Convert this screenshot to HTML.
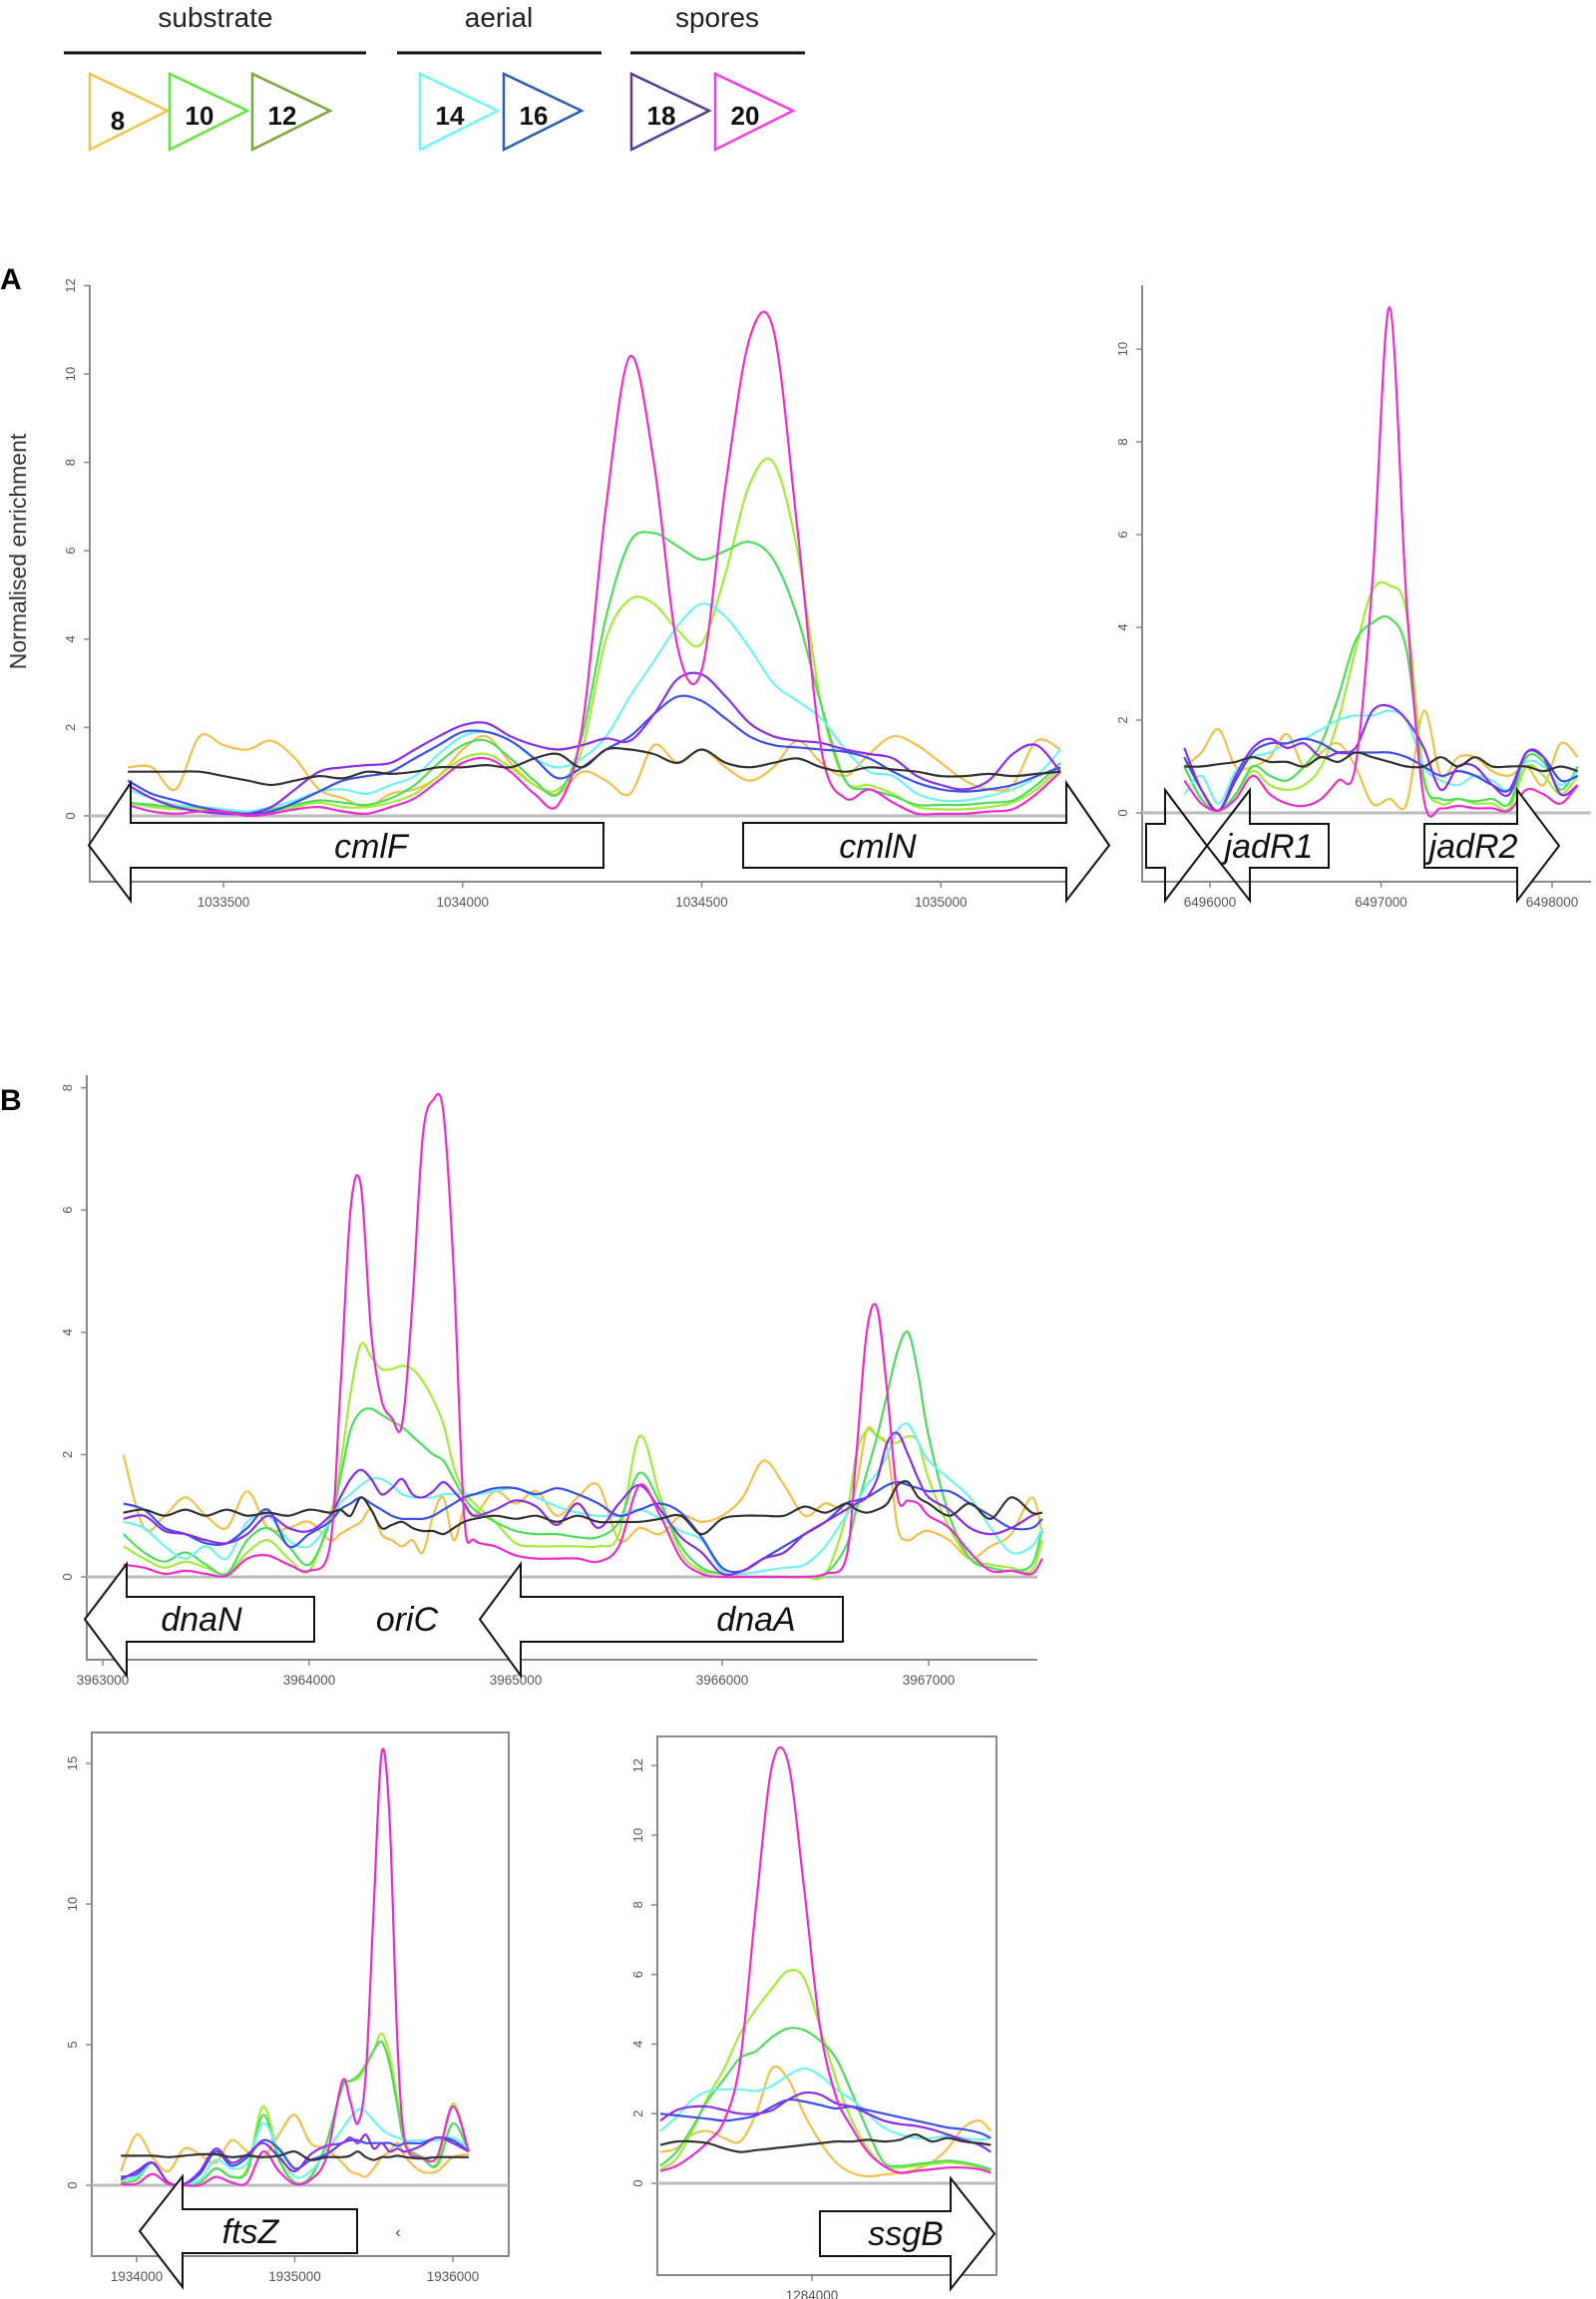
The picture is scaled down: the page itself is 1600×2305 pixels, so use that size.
<!DOCTYPE html>
<html><head><meta charset="utf-8"><title>ChIP enrichment profiles</title>
<style>
html,body{margin:0;padding:0;background:#fff;}
svg{display:block;font-family:"Liberation Sans",sans-serif;}
.tick{font-size:13.5px;fill:#555;}
.ytick{font-size:13px;fill:#555;}
.gene{font-size:34px;font-style:italic;fill:#111;}
</style></head>
<body>
<svg id="fig" width="1600" height="2305" viewBox="0 0 1600 2305" xmlns="http://www.w3.org/2000/svg">
<g id="legend"></g>
<text x="0" y="290" font-size="30" font-weight="bold">A</text>
<text x="0" y="1113" font-size="30" font-weight="bold">B</text>
<text transform="translate(26,553) rotate(-90)" text-anchor="middle" font-size="23" fill="#333">Normalised enrichment</text>
<g id="plots"></g>
</svg>
<script>
// ---------- data ----------
const seriesNames = ["8","10","12","14","16","18","20","control"];
const seriesColors = ["#f0c04a","#a2ec3a","#4fdc5c","#6ff2f2","#3a50e8","#8a2ee8","#ec2ccc","#333333"];

// Panel A (cmlF / cmlN)
const xA = [1033300,1033350,1033400,1033450,1033500,1033550,1033600,1033650,1033700,1033750,
1033800,1033850,1033900,1033950,1034000,1034050,1034100,1034150,1034200,1034250,
1034300,1034350,1034400,1034450,1034500,1034550,1034600,1034650,1034700,1034750,
1034800,1034850,1034900,1034950,1035000,1035050,1035100,1035150,1035200,1035250];
const a8  = [1.1,1.1,0.6,1.8,1.6,1.5,1.7,1.3,0.6,0.4,0.2,0.5,0.6,0.9,1.5,1.8,1.2,0.7,0.5,1.0,0.8,0.5,1.6,1.2,1.5,1.1,0.8,1.1,1.7,1.2,0.9,1.4,1.8,1.6,1.2,0.8,0.6,0.7,1.7,1.5];
const a10 = [0.3,0.2,0.15,0.15,0.1,0.05,0.1,0.2,0.3,0.2,0.2,0.3,0.5,0.9,1.3,1.4,1.1,0.7,0.6,1.5,4.0,4.9,4.8,4.2,3.9,5.5,7.5,8.0,6.0,2.5,0.8,0.7,0.5,0.2,0.15,0.15,0.2,0.3,0.6,1.1];
const a12 = [0.3,0.25,0.2,0.2,0.15,0.1,0.15,0.25,0.35,0.3,0.25,0.4,0.7,1.2,1.6,1.7,1.3,0.8,0.5,1.8,4.5,6.2,6.4,6.1,5.8,6.0,6.2,5.8,4.5,2.5,0.8,0.6,0.45,0.25,0.25,0.25,0.3,0.35,0.7,1.2];
const a14 = [0.6,0.4,0.25,0.2,0.15,0.1,0.2,0.35,0.55,0.6,0.5,0.7,0.9,1.4,1.8,1.9,1.7,1.3,1.1,1.3,1.8,2.7,3.5,4.3,4.8,4.5,3.8,3.0,2.6,2.2,1.5,1.0,0.9,0.5,0.35,0.35,0.45,0.6,0.9,1.5];
const a16 = [0.8,0.5,0.35,0.2,0.1,0.05,0.1,0.3,0.55,0.8,0.9,1.0,1.3,1.6,1.9,1.9,1.7,1.3,0.85,1.1,1.5,1.8,2.3,2.7,2.6,2.2,1.8,1.6,1.55,1.5,1.45,1.3,1.0,0.75,0.6,0.55,0.6,0.7,0.9,1.1];
const a18 = [0.7,0.4,0.2,0.1,0.05,0.05,0.2,0.6,1.0,1.1,1.15,1.2,1.5,1.8,2.05,2.1,1.8,1.6,1.5,1.6,1.75,1.7,2.3,3.1,3.2,2.7,2.1,1.8,1.7,1.65,1.5,1.4,1.3,0.9,0.7,0.6,0.8,1.4,1.6,1.0];
const a20 = [0.25,0.1,0.05,0.1,0.1,0.0,0.05,0.15,0.2,0.1,0.05,0.2,0.4,0.8,1.2,1.3,1.0,0.5,0.25,2.0,7.0,10.4,8.0,3.8,3.3,7.5,10.8,11.0,6.5,1.5,0.4,0.6,0.3,0.05,0.05,0.05,0.1,0.15,0.5,1.0];
const aC  = [1.0,1.0,1.0,1.0,0.9,0.8,0.7,0.8,0.9,0.85,1.0,0.95,1.0,1.1,1.1,1.15,1.1,1.3,1.4,1.1,1.5,1.5,1.4,1.2,1.5,1.2,1.1,1.2,1.3,1.1,1.0,1.1,1.05,1.0,0.9,0.9,0.95,0.9,0.95,1.0];
const yTicksA = [0,2,4,6,8,10,12];
const xTicksA = [1033500,1034000,1034500,1035000];

// Panel A right (jadR1 / jadR2)
const xAR = [6495850,6495950,6496050,6496150,6496250,6496350,6496450,6496550,6496650,6496750,6496850,6496950,
6497050,6497150,6497250,6497350,6497450,6497550,6497650,6497750,6497850,6497950,6498050,6498150];
const r8  = [1.0,1.3,1.8,1.0,1.0,1.2,1.7,1.0,1.3,1.5,1.0,0.2,0.3,0.2,2.2,0.8,1.2,1.2,0.9,0.8,1.0,0.6,1.5,1.2];
const r10 = [1.0,0.3,0.05,0.4,0.9,0.6,0.5,0.6,1.0,2.0,3.5,4.8,4.9,4.3,0.8,0.2,0.3,0.2,0.2,0.1,1.0,0.8,0.4,0.8];
const r12 = [1.0,0.3,0.05,0.4,1.0,0.8,0.7,1.0,1.5,2.5,3.7,4.1,4.2,3.5,0.7,0.3,0.3,0.25,0.3,0.2,1.2,1.1,0.5,1.0];
const r14 = [0.4,0.8,0.2,0.9,1.2,1.3,1.5,1.6,1.8,2.0,2.1,2.1,2.2,2.0,1.0,0.7,0.6,0.8,0.7,0.5,1.1,1.0,0.6,0.9];
const r16 = [1.2,0.5,0.05,0.7,1.3,1.5,1.5,1.6,1.5,1.3,1.3,1.3,1.3,1.2,1.0,0.8,0.9,0.8,0.6,0.5,1.3,1.2,0.7,0.8];
const r18 = [1.4,0.5,0.05,0.8,1.4,1.6,1.4,1.5,1.2,1.3,1.4,2.2,2.3,2.0,1.4,0.5,1.0,1.0,0.6,0.4,1.3,1.2,0.4,0.6];
const r20 = [0.7,0.2,0.05,0.3,0.8,0.4,0.2,0.15,0.3,0.7,1.0,5.0,10.9,4.5,0.3,0.1,0.15,0.1,0.1,0.05,0.5,0.4,0.2,0.6];
const rC  = [1.0,1.0,1.05,1.1,1.2,1.1,1.1,1.0,1.2,1.1,1.3,1.2,1.1,1.0,1.0,1.2,1.0,1.2,1.0,1.0,1.0,0.9,1.0,0.9];
const yTicksAR = [0,2,4,6,8,10];
const xTicksAR = [6496000,6497000,6498000];

// Panel B (dnaN / oriC / dnaA)
const xB = [3963100,3963200,3963300,3963400,3963500,3963600,3963700,3963800,3963900,3964000,
3964100,3964150,3964200,3964250,3964300,3964350,3964400,3964450,3964500,3964550,
3964600,3964650,3964700,3964750,3964800,3964900,3965000,3965100,3965200,3965300,
3965400,3965500,3965600,3965700,3965800,3965900,3966000,3966100,3966200,3966300,
3966400,3966500,3966600,3966650,3966700,3966750,3966800,3966850,3966900,3966950,
3967000,3967100,3967200,3967300,3967400,3967500,3967550];
const b8  = [2.0,0.8,1.0,1.3,1.0,0.8,1.4,0.8,0.8,0.9, 0.6,0.7,0.8,0.9,1.1,0.7,0.6,0.5,0.6,0.4, 1.0,1.3,0.6,1.1,1.0,1.4,1.2,1.4,1.0,1.3, 1.5,0.6,0.8,0.7,1.0,0.9,1.0,1.3,1.9,1.5, 1.0,1.2,1.1,1.5,2.4,2.3,2.1,0.8,0.6,0.7, 0.75,0.6,0.3,0.5,0.7,1.3,0.7];
const b10 = [0.5,0.3,0.15,0.25,0.15,0.05,0.4,0.6,0.3,0.1, 1.0,1.8,3.0,3.8,3.6,3.4,3.4,3.45,3.4,3.2, 2.9,2.5,1.8,1.4,1.2,0.9,0.55,0.5,0.5,0.5, 0.5,0.7,2.3,1.3,0.4,0.1,0.05,0.0,0.0,0.0, 0.0,0.05,1.0,2.0,2.4,2.3,2.2,2.2,2.3,2.2, 1.6,0.8,0.3,0.2,0.15,0.1,0.6];
const b12 = [0.7,0.4,0.25,0.4,0.2,0.05,0.6,0.8,0.5,0.2, 0.9,1.6,2.4,2.7,2.75,2.65,2.55,2.45,2.3,2.15, 2.0,1.9,1.6,1.3,1.1,0.9,0.75,0.7,0.7,0.65, 0.65,0.9,1.7,1.2,0.5,0.15,0.05,0.0,0.0,0.0, 0.0,0.05,0.5,1.1,1.7,2.3,3.0,3.7,4.0,3.3, 2.3,1.0,0.3,0.15,0.1,0.2,0.8];
const b14 = [0.9,0.8,0.5,0.3,0.5,0.3,0.9,1.0,0.6,0.5, 0.9,1.2,1.35,1.5,1.6,1.6,1.5,1.35,1.3,1.3, 1.3,1.35,1.35,1.35,1.35,1.4,1.45,1.3,1.15,1.05, 1.0,1.0,1.1,0.95,0.75,0.6,0.1,0.05,0.1,0.15, 0.2,0.5,1.0,1.2,1.5,1.7,2.0,2.4,2.5,2.2, 1.9,1.6,1.3,0.8,0.4,0.5,0.8];
const b16 = [1.2,1.1,0.8,0.7,0.55,0.55,0.8,1.1,0.5,0.7, 0.9,1.1,1.2,1.3,1.2,1.1,1.0,0.95,0.95,0.95, 1.0,1.1,1.2,1.3,1.35,1.45,1.45,1.35,1.45,1.35, 1.2,1.0,1.1,1.2,1.05,0.65,0.15,0.1,0.3,0.5, 0.7,0.9,1.2,1.25,1.3,1.4,1.5,1.55,1.5,1.45, 1.4,1.4,1.2,1.0,0.8,0.8,0.95];
const b18 = [0.95,1.0,0.75,0.7,0.6,0.55,0.7,1.0,0.8,0.75, 1.0,1.3,1.6,1.75,1.6,1.35,1.45,1.6,1.35,1.3, 1.4,1.55,1.4,1.2,1.0,1.1,1.25,1.15,0.85,1.2, 0.8,1.2,1.5,1.1,0.65,0.4,0.05,0.1,0.3,0.4, 0.7,0.9,1.1,1.2,1.3,1.6,2.2,2.35,2.0,1.6, 1.3,1.1,0.8,0.7,0.8,1.0,1.05];
const b20 = [0.2,0.15,0.05,0.1,0.05,0.02,0.3,0.35,0.2,0.1, 0.5,3.0,6.0,6.4,4.0,2.9,2.6,2.5,4.5,7.2, 7.8,7.6,5.0,1.0,0.6,0.5,0.35,0.3,0.3,0.3, 0.25,0.5,1.5,1.0,0.3,0.05,0.0,0.0,0.0,0.0, 0.0,0.05,0.3,2.0,4.0,4.4,3.0,1.3,1.25,1.2, 1.0,0.8,0.4,0.1,0.1,0.05,0.3];
const bC  = [1.05,1.1,1.0,1.1,1.0,1.1,1.0,1.05,1.0,1.1, 1.05,1.1,1.0,1.3,1.1,0.8,0.85,0.9,0.8,0.75, 0.75,0.7,0.8,0.9,0.95,1.0,0.95,1.0,0.9,1.0, 0.9,0.9,0.9,0.95,1.0,0.7,0.95,1.0,1.0,1.0, 1.15,1.05,1.2,1.1,1.05,1.1,1.2,1.5,1.55,1.3, 1.2,1.0,1.2,0.95,1.3,1.05,1.05];
const yTicksB = [0,2,4,6,8];
const xTicksB = [3963000,3964000,3965000,3966000,3967000];

// Panel ftsZ
const xF = [1933900,1934000,1934100,1934200,1934300,1934400,1934500,1934600,1934700,1934800,1934900,1935000,1935100,1935200,1935300,
1935350,1935400,1935450,1935500,1935550,1935600,1935650,1935700,1935800,1935900,1936000,1936100];
const f8  = [0.5,1.8,1.0,0.5,1.3,1.1,0.8,1.6,1.2,1.0,1.8,2.5,1.5,1.3,0.8,0.5,0.4,0.3,0.6,1.0,1.2,1.5,1.0,0.5,0.5,1.0,1.1];
const f10 = [0.1,0.2,0.8,0.1,0.05,0.1,0.6,0.3,0.6,2.8,1.0,0.1,0.3,1.5,3.5,3.7,3.8,4.2,4.8,5.4,4.6,3.0,1.5,1.0,0.8,2.9,1.2];
const f12 = [0.1,0.2,0.8,0.1,0.05,0.1,0.6,0.3,0.5,2.5,0.9,0.1,0.3,1.5,3.5,3.7,3.9,4.3,4.8,5.1,4.3,2.8,1.4,1.0,0.7,2.2,1.2];
const f14 = [0.2,0.3,0.8,0.1,0.05,0.2,0.9,0.6,0.8,2.2,1.2,0.3,0.5,1.2,2.0,2.4,2.7,2.6,2.3,2.0,1.8,1.7,1.6,1.6,1.6,1.7,1.3];
const f16 = [0.3,0.4,0.8,0.1,0.05,0.4,1.2,0.7,1.0,1.6,1.3,0.6,0.9,1.1,1.5,1.6,1.6,1.5,1.5,1.5,1.5,1.4,1.5,1.5,1.7,1.6,1.2];
const f18 = [0.2,0.5,0.8,0.1,0.05,0.5,1.3,0.8,1.1,1.5,1.0,0.5,1.1,1.4,1.5,1.7,1.5,1.8,1.3,1.5,1.2,1.3,1.2,1.4,1.7,1.5,1.2];
const f20 = [0.05,0.05,0.4,0.05,0.0,0.0,0.3,0.1,0.1,1.2,0.5,0.05,0.2,1.0,3.7,3.0,2.2,4.0,10.0,15.4,13.0,5.0,1.5,1.0,1.0,2.8,1.2];
const fC  = [1.05,1.05,1.05,1.0,1.05,1.1,1.1,1.0,1.05,1.0,1.05,1.2,0.9,1.0,1.0,1.05,1.2,1.0,0.9,1.0,1.0,1.05,1.0,0.95,1.0,1.0,1.0];
const yTicksF = [0,5,10,15];
const xTicksF = [1934000,1935000,1936000];

// Panel ssgB
const xS = [1283050,1283150,1283250,1283350,1283450,1283550,1283650,1283750,1283850,1283950,1284050,
1284150,1284250,1284350,1284450,1284550,1284650,1284750,1284850,1284950,1285050,1285120];
const s8  = [0.9,1.0,1.4,1.5,1.3,1.2,2.0,3.3,3.0,2.0,1.2,0.6,0.3,0.2,0.25,0.3,0.4,0.6,1.0,1.6,1.8,1.5];
const s10 = [0.4,0.7,1.5,2.5,3.3,4.3,5.0,5.6,6.1,5.9,4.5,3.0,1.8,1.0,0.5,0.45,0.5,0.55,0.6,0.55,0.45,0.35];
const s12 = [0.5,0.9,1.6,2.4,3.0,3.6,3.8,4.2,4.45,4.4,4.1,3.6,2.6,1.5,0.6,0.5,0.55,0.6,0.65,0.6,0.5,0.4];
const s14 = [1.5,1.9,2.4,2.65,2.7,2.7,2.65,2.8,3.1,3.3,3.1,2.7,2.4,2.0,1.6,1.4,1.3,1.3,1.35,1.3,1.25,1.3];
const s16 = [2.0,1.95,1.9,1.85,1.8,1.85,1.95,2.2,2.4,2.35,2.25,2.15,2.2,2.1,2.0,1.9,1.8,1.7,1.6,1.55,1.45,1.3];
const s18 = [1.8,2.1,2.2,2.2,2.1,2.0,2.0,2.1,2.4,2.6,2.55,2.3,2.2,2.0,1.8,1.7,1.65,1.55,1.4,1.25,1.1,0.9];
const s20 = [0.35,0.5,0.8,1.2,1.8,3.5,8.0,12.0,12.1,8.5,4.5,2.5,1.6,0.9,0.5,0.3,0.35,0.4,0.45,0.45,0.4,0.3];
const sC  = [1.1,1.2,1.2,1.15,1.0,0.9,0.95,1.0,1.05,1.1,1.15,1.2,1.2,1.25,1.2,1.25,1.4,1.2,1.3,1.2,1.15,1.1];
const yTicksS = [0,2,4,6,8,10,12];
const xTicksS = [1284000];

// ---------- rendering ----------
const NS = "http://www.w3.org/2000/svg";
const plots = document.getElementById('plots');
function mk(tag, attrs, parent){
  const e = document.createElementNS(NS, tag);
  for (const k in attrs) e.setAttribute(k, attrs[k]);
  (parent||plots).appendChild(e);
  return e;
}
function smoothPath(pts){
  let d = "M" + pts[0][0].toFixed(1) + "," + pts[0][1].toFixed(1);
  for (let i=0;i<pts.length-1;i++){
    const p0 = pts[Math.max(0,i-1)], p1 = pts[i], p2 = pts[i+1], p3 = pts[Math.min(pts.length-1,i+2)];
    const c1x = p1[0]+(p2[0]-p0[0])/6, c1y = p1[1]+(p2[1]-p0[1])/6;
    const c2x = p2[0]-(p3[0]-p1[0])/6, c2y = p2[1]-(p3[1]-p1[1])/6;
    d += " C"+c1x.toFixed(1)+","+c1y.toFixed(1)+" "+c2x.toFixed(1)+","+c2y.toFixed(1)+" "+p2[0].toFixed(1)+","+p2[1].toFixed(1);
  }
  return d;
}
function drawPanel(cfg){
  const g = mk('g', {});
  
  
  const xs = v => cfg.px0 + (v - cfg.g0) * cfg.pxPerBp;
  const ys = v => cfg.y0 - v * cfg.pxPerUnit;
  if (cfg.box){
    const r = mk('rect', {x:cfg.left, y:cfg.top, width:cfg.right-cfg.left, height:cfg.bottom-cfg.top, fill:'none', stroke:'#888', 'stroke-width':2}, g);
    
    
  } else {
    const ax = mk('path', {d:`M${cfg.left},${cfg.top} V${cfg.bottom} H${cfg.right}`, fill:'none', stroke:'#888', 'stroke-width':2}, g);
    
    
  }
  const zl = mk('line', {x1:cfg.left, x2:cfg.right, y1:ys(0), y2:ys(0), stroke:'#bbb', 'stroke-width':3}, g);
  
  
  cfg.yTicks.forEach(t => {
    const y = ys(t);
    const tl = mk('line', {x1:cfg.left-6, x2:cfg.left, y1:y, y2:y, stroke:'#888', 'stroke-width':1.5}, g);
    
    
    const tx = mk('text', {class:'ytick', transform:`translate(${cfg.left-15},${y}) rotate(-90)`, 'text-anchor':'middle'}, g);
    tx.textContent = String(t);
    
    
  });
  cfg.xTicks.forEach(t => {
    const x = xs(t);
    const tl = mk('line', {x1:x, x2:x, y1:cfg.bottom, y2:cfg.bottom+6, stroke:'#888', 'stroke-width':1.5}, g);
    
    
    const tx = mk('text', {class:'tick', x:x, y:cfg.bottom+25, 'text-anchor':'middle'}, g);
    tx.textContent = String(t);
    
    
  });
  cfg.series.forEach((vals, si) => {
    const n = Math.min(vals.length, cfg.x.length);
    const pts = [];
    for (let i=0;i<n;i++) pts.push([xs(cfg.x[i]), ys(Math.max(0, vals[i]))]);
    const p = mk('path', {d:smoothPath(pts), fill:'none', stroke:seriesColors[si], 'stroke-width':2.2, 'stroke-linejoin':'round'}, g);
    
    
  });
  cfg.genes.forEach(ge => {
    const mid = (ge.bt + ge.bb)/2;
    let pts;
    if (ge.dir < 0){
      pts = [[ge.tip,mid],[ge.base,ge.ht],[ge.base,ge.bt],[ge.end,ge.bt],[ge.end,ge.bb],[ge.base,ge.bb],[ge.base,ge.hb]];
    } else {
      pts = [[ge.tip,mid],[ge.base,ge.hb],[ge.base,ge.bb],[ge.end,ge.bb],[ge.end,ge.bt],[ge.base,ge.bt],[ge.base,ge.ht]];
    }
    const pg = mk('polygon', {points:pts.map(p=>p.join(',')).join(' '), fill:ge.fill||'#fff', 'fill-opacity':ge.op==null?1:ge.op, stroke:'#111', 'stroke-width':2}, g);
    
    
  });
  cfg.labels.forEach(l => {
    const t = mk('text', {class:'gene', x:l.x, y:l.y+12, 'text-anchor':'middle'}, g);
    t.textContent = l.t;
    
    
  });
}

drawPanel({name:'panel-a-cml', x:xA, series:[a8,a10,a12,a14,a16,a18,a20,aC],
  g0:1033500, px0:224, pxPerBp:0.4795, y0:818, pxPerUnit:44.3,
  left:90, right:1082, top:286, bottom:884, box:false, yTicks:yTicksA, xTicks:xTicksA,
  genes:[{dir:-1,tip:89,base:131,end:605,bt:825,bb:870,ht:785,hb:903,label:'cmlF'},
         {dir:1,tip:1112,base:1069,end:745,bt:825,bb:870,ht:785,hb:903,label:'cmlN'}],
  labels:[{t:'cmlF',x:372,y:848},{t:'cmlN',x:880,y:848}]});

drawPanel({name:'panel-a-jad', x:xAR, series:[r8,r10,r12,r14,r16,r18,r20,rC],
  g0:6496000, px0:1213, pxPerBp:0.1715, y0:815, pxPerUnit:46.5,
  left:1145, right:1595, top:286, bottom:884, box:false, yTicks:yTicksAR, xTicks:xTicksAR,
  genes:[{dir:1,tip:1210,base:1168,end:1149,bt:826,bb:870,ht:792,hb:903,label:'jad-upstream',op:0},
         {dir:-1,tip:1210,base:1253,end:1332,bt:826,bb:870,ht:792,hb:903,label:'jadR1',op:0},
         {dir:1,tip:1563,base:1521,end:1428,bt:826,bb:870,ht:792,hb:903,label:'jadR2'}],
  labels:[{t:'jadR1',x:1272,y:848},{t:'jadR2',x:1477,y:848}]});

drawPanel({name:'panel-b-oric', x:xB, series:[b8,b10,b12,b14,b16,b18,b20,bC],
  g0:3963000, px0:103, pxPerBp:0.207, y0:1581, pxPerUnit:61.3,
  left:87, right:1040, top:1078, bottom:1664, box:false, yTicks:yTicksB, xTicks:xTicksB,
  genes:[{dir:-1,tip:85,base:127,end:315,bt:1601,bb:1646,ht:1568,hb:1680,label:'dnaN'},
         {dir:-1,tip:481,base:522,end:845,bt:1601,bb:1646,ht:1568,hb:1680,label:'dnaA'}],
  labels:[{t:'dnaN',x:202,y:1623},{t:'oriC',x:408,y:1623},{t:'dnaA',x:758,y:1623}]});

drawPanel({name:'panel-b-ftsz', x:xF, series:[f8,f10,f12,f14,f16,f18,f20,fC],
  g0:1934000, px0:137, pxPerBp:0.1585, y0:2191, pxPerUnit:28.2,
  left:92, right:510, top:1737, bottom:2262, box:true, yTicks:yTicksF, xTicks:xTicksF,
  genes:[{dir:-1,tip:140,base:183,end:358,bt:2215,bb:2259,ht:2182,hb:2293,label:'ftsZ'}],
  labels:[{t:'ftsZ',x:251,y:2237}]});

drawPanel({name:'panel-b-ssgb', x:xS, series:[s8,s10,s12,s14,s16,s18,s20,sC],
  g0:1284000, px0:814, pxPerBp:0.16, y0:2189, pxPerUnit:34.9,
  left:659, right:999, top:1741, bottom:2281, box:true, yTicks:yTicksS, xTicks:xTicksS,
  genes:[{dir:1,tip:997,base:953,end:822,bt:2217,bb:2262,ht:2184,hb:2295,label:'ssgB'}],
  labels:[{t:'ssgB',x:908,y:2239}]});

const stray = mk('text', {x:399, y:2243, 'font-size':16, fill:'#444', 'text-anchor':'middle'});
stray.textContent = '‹';



// ---------- legend ----------
const legend = document.getElementById('legend');
const groupLabels = ["substrate","aerial","spores"];
const groupCenters = [216,500,719];
const groupLines = [[64,367],[398,603],[632,807]];
const legendNums = ["8","10","12","14","16","18","20"];
const legendColors = ["#ecc64a","#5fe83a","#77a83c","#6ff5f5","#2a5cb8","#5a3a90","#ee3ce8"];
const legendX = [90,170,253,421,505,633,717];
groupLabels.forEach((t,i) => {
  const tx = mk('text', {x:groupCenters[i], y:27, 'font-size':28, fill:'#222', 'text-anchor':'middle'}, legend);
  tx.textContent = t;
  
  
  const ln = mk('line', {x1:groupLines[i][0], x2:groupLines[i][1], y1:53, y2:53, stroke:'#111', 'stroke-width':3}, legend);
  
  
});
legendNums.forEach((n,i) => {
  const x0 = legendX[i];
  const tr = mk('polygon', {points:`${x0},74 ${x0+78},111 ${x0},150`, fill:'none', stroke:legendColors[i], 'stroke-width':2.5}, legend);
  
  
  const tx = mk('text', {x:x0 + (n.length>1?30:28), y:i===0?130:125, 'font-size':26, 'font-weight':'bold', fill:'#111', 'text-anchor':'middle'}, legend);
  tx.textContent = n;
  
  
});
</script>
</body></html>
